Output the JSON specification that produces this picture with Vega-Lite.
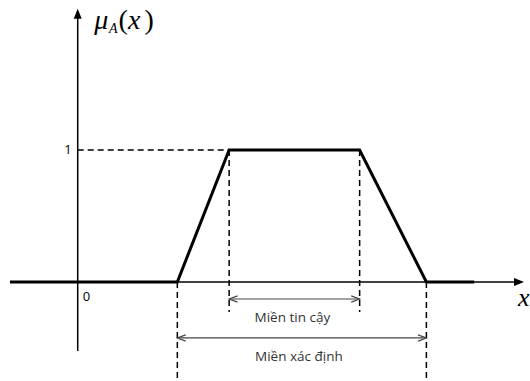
{
  "$schema": "https://vega.github.io/schema/vega-lite/v6.json",
  "width": 530,
  "height": 381,
  "autosize": {"type": "fit", "contains": "padding"},
  "padding": 0,
  "background": "white",
  "config": {"view": {"stroke": null}},
  "encoding": {
    "x": {"type": "quantitative", "axis": null, "scale": {"domain": [-1.56, 9.04], "nice": false, "zero": false}},
    "y": {"type": "quantitative", "axis": null, "scale": {"domain": [-0.75, 2.136], "nice": false, "zero": false}}
  },
  "layer": [
    {
      "data": {"values": [
        {"x": -1.36, "x2": 8.8, "y": 0, "y2": 0},
        {"x": 0, "x2": 0, "y": -0.523, "y2": 2.0}
      ]},
      "mark": {"type": "rule", "color": "black", "strokeWidth": 1.5},
      "encoding": {"x": {"field": "x"}, "x2": {"field": "x2"}, "y": {"field": "y"}, "y2": {"field": "y2"}}
    },
    {
      "data": {"values": [{"x": 8.96, "y": 0}]},
      "mark": {"type": "point", "shape": "M0,0L-2,-0.8L-2,0.8Z", "filled": true, "color": "black", "size": 100, "opacity": 1},
      "encoding": {"x": {"field": "x"}, "y": {"field": "y"}}
    },
    {
      "data": {"values": [{"x": 0, "y": 2.07}]},
      "mark": {"type": "point", "shape": "M0,0L-0.8,2L0.8,2Z", "filled": true, "color": "black", "size": 100, "opacity": 1},
      "encoding": {"x": {"field": "x"}, "y": {"field": "y"}}
    },
    {
      "data": {"values": [
        {"x": -1.36, "mu": 0, "o": 1},
        {"x": 2.0, "mu": 0, "o": 2},
        {"x": 3.04, "mu": 1, "o": 3},
        {"x": 5.66, "mu": 1, "o": 4},
        {"x": 7.0, "mu": 0, "o": 5},
        {"x": 7.96, "mu": 0, "o": 6}
      ]},
      "mark": {"type": "line", "color": "black", "strokeWidth": 3, "strokeJoin": "miter"},
      "encoding": {"x": {"field": "x"}, "y": {"field": "mu"}, "order": {"field": "o"}}
    },
    {
      "data": {"values": [
        {"x": 0, "x2": 3.04, "y": 1, "y2": 1},
        {"x": 3.04, "x2": 3.04, "y": 1, "y2": -0.227},
        {"x": 5.66, "x2": 5.66, "y": 1, "y2": -0.227},
        {"x": 2.0, "x2": 2.0, "y": 0, "y2": -0.727},
        {"x": 7.0, "x2": 7.0, "y": 0, "y2": -0.727}
      ]},
      "mark": {"type": "rule", "color": "black", "strokeWidth": 1.5, "strokeDash": [6, 4]},
      "encoding": {"x": {"field": "x"}, "x2": {"field": "x2"}, "y": {"field": "y"}, "y2": {"field": "y2"}}
    },
    {
      "data": {"values": [
        {"x": 3.04, "x2": 5.66, "y": -0.129},
        {"x": 2.0, "x2": 7.0, "y": -0.424}
      ]},
      "mark": {"type": "rule", "color": "#444444", "strokeWidth": 1.2},
      "encoding": {"x": {"field": "x"}, "x2": {"field": "x2"}, "y": {"field": "y"}}
    },
    {
      "data": {"values": [{"x": 3.04, "y": -0.129}, {"x": 2.0, "y": -0.424}]},
      "mark": {"type": "point", "shape": "M1.6,-0.6L0,0L1.6,0.6", "filled": false, "color": "#444444", "strokeWidth": 1.2, "size": 110, "opacity": 1},
      "encoding": {"x": {"field": "x"}, "y": {"field": "y"}}
    },
    {
      "data": {"values": [{"x": 5.66, "y": -0.129}, {"x": 7.0, "y": -0.424}]},
      "mark": {"type": "point", "shape": "M-1.6,-0.6L0,0L-1.6,0.6", "filled": false, "color": "#444444", "strokeWidth": 1.2, "size": 110, "opacity": 1},
      "encoding": {"x": {"field": "x"}, "y": {"field": "y"}}
    },
    {
      "data": {"values": [
        {"x": 4.31, "y": -0.273, "t": "Miền tin cậy"},
        {"x": 4.44, "y": -0.568, "t": "Miền xác định"}
      ]},
      "mark": {"type": "text", "font": "Open Sans", "fontSize": 13.5, "color": "#333333", "align": "center", "baseline": "middle"},
      "encoding": {"x": {"field": "x"}, "y": {"field": "y"}, "text": {"field": "t"}}
    },
    {
      "data": {"values": [
        {"x": -0.12, "y": 1, "t": "1"}
      ]},
      "mark": {"type": "text", "font": "Open Sans", "fontSize": 13, "color": "black", "align": "right", "baseline": "middle"},
      "encoding": {"x": {"field": "x"}, "y": {"field": "y"}, "text": {"field": "t"}}
    },
    {
      "data": {"values": [
        {"x": 0.1, "y": -0.114, "t": "0"}
      ]},
      "mark": {"type": "text", "font": "Open Sans", "fontSize": 13, "color": "black", "align": "left", "baseline": "middle"},
      "encoding": {"x": {"field": "x"}, "y": {"field": "y"}, "text": {"field": "t"}}
    },
    {
      "data": {"values": [
        {"x": 8.84, "y": -0.12, "t": "x"}
      ]},
      "mark": {"type": "text", "font": "Liberation Serif", "fontStyle": "italic", "fontSize": 26, "color": "black", "align": "left", "baseline": "middle"},
      "encoding": {"x": {"field": "x"}, "y": {"field": "y"}, "text": {"field": "t"}}
    },
    {
      "data": {"values": [
        {"x": 0.33, "y": 1.98, "t": "μ"},
        {"x": 1.01, "y": 1.98, "t": "x"}
      ]},
      "mark": {"type": "text", "font": "Liberation Serif", "fontStyle": "italic", "fontSize": 28, "color": "black", "align": "left", "baseline": "middle"},
      "encoding": {"x": {"field": "x"}, "y": {"field": "y"}, "text": {"field": "t"}}
    },
    {
      "data": {"values": [
        {"x": 0.82, "y": 1.98, "t": "("},
        {"x": 1.34, "y": 1.98, "t": ")"}
      ]},
      "mark": {"type": "text", "font": "Liberation Serif", "fontSize": 28, "color": "black", "align": "left", "baseline": "middle"},
      "encoding": {"x": {"field": "x"}, "y": {"field": "y"}, "text": {"field": "t"}}
    },
    {
      "data": {"values": [
        {"x": 0.63, "y": 1.92, "t": "A"}
      ]},
      "mark": {"type": "text", "font": "Liberation Serif", "fontStyle": "italic", "fontSize": 14, "color": "black", "align": "left", "baseline": "middle"},
      "encoding": {"x": {"field": "x"}, "y": {"field": "y"}, "text": {"field": "t"}}
    }
  ]
}
